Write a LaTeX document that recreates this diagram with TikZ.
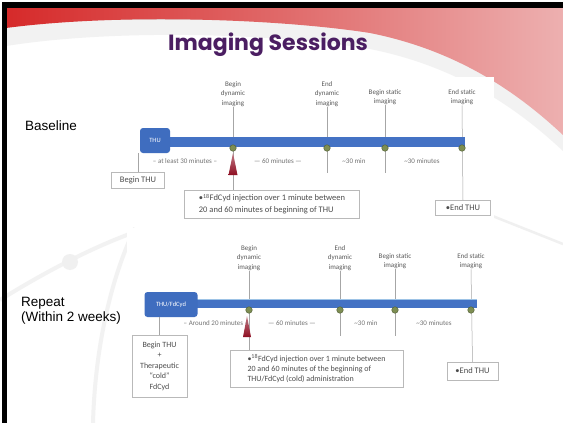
\documentclass[tikz,border=0pt]{standalone}
\usepackage{fontspec}
\setmainfont{Carlito}
\newfontfamily\arialf{Liberation Sans}
\newfontfamily\titlef{Poppins}
\definecolor{titlepurple}{HTML}{4B1E62}
\definecolor{barblue}{HTML}{4472C4}
\definecolor{boxblue}{HTML}{3F6DBF}
\definecolor{markc}{HTML}{7E8E52}
\definecolor{markd}{HTML}{55633A}
\definecolor{spikered}{HTML}{8E0E22}
\definecolor{swred}{HTML}{D62A2A}
\definecolor{swmid}{HTML}{E06A6A}
\definecolor{swpink}{HTML}{EDB0B0}
\definecolor{lightline}{HTML}{9DC3E6}
\begin{document}
\begin{tikzpicture}[x=1pt,y=-1pt,
 lbl/.style={font=\fontsize{7}{9.5}\selectfont, text=black!65, align=center, inner sep=0.5pt},
 note/.style={draw=gray!55, line width=0.5pt, fill=white, font=\fontsize{8.5}{11.5}\selectfont, text=black!70, inner sep=2pt},
 vline/.style={draw=gray!70, line width=0.5pt},
 mk/.style={circle, draw=markd, fill=markc, minimum size=6.5pt, inner sep=0, line width=0.5pt},
 phase/.style={rectangle, rounded corners=3pt, fill=boxblue, text=white, font=\fontsize{6.5}{7}\selectfont, minimum height=25pt, inner sep=1pt},
 gap/.style={font=\fontsize{7}{8}\selectfont, text=black!55, inner sep=0.5pt},
 spike/.style={top color=spikered!55, bottom color=spikered},
 side/.style={font=\arialf\fontsize{13.5}{15.5}\selectfont, align=left, anchor=north west, inner sep=0},
 deco/.style={draw=gray!10, line width=4pt}
]
\useasboundingbox (0,0) rectangle (563,423);
\fill[white] (0,0) rectangle (563,423);
% decorative background arcs
\draw[deco] (0,300) .. controls (40,275) and (90,248) .. (135,232);
\fill[gray!12] (70,262) circle (8);
\draw[deco] (135,228) .. controls (110,280) and (95,350) .. (93,423);
\draw[draw=gray!12, line width=2.5pt] (490,215) -- (563,244);
% top swoosh
\fill[gray!25] (6,14) -- (563,14) -- (563,143) .. controls (515,98) and (455,58) .. (370,41) .. controls (280,26) and (120,20) .. (6,38) -- cycle;
\fill[gray!10] (6,20) -- (563,20) -- (563,151) .. controls (515,106) and (455,66) .. (370,49) .. controls (280,34) and (120,28) .. (6,46) -- cycle;
\shade[left color=swred, right color=swpink, middle color=swmid] (6,7) -- (563,7) -- (563,135) .. controls (515,90) and (455,50) .. (370,33) .. controls (280,19) and (120,13) .. (6,28) -- cycle;
% black frame
\fill[black] (1.5,1.5) rectangle (563,7.5);
\fill[black] (1.5,1.5) rectangle (6.5,423);
% title
\node[font=\titlef\bfseries\fontsize{22}{26}\selectfont, text=titlepurple, anchor=base, inner sep=0] (title) at (268,50) {Imaging Sessions};
% side labels
\node[side] (base) at (25,121) {Baseline};
\node[side] (rep) at (21,297) {Repeat\\(Within 2 weeks)};
% pasted picture backgrounds
\fill[white] (100,77) rectangle (494,226);
\fill[white] (127,228) rectangle (520,400);

% ===== Baseline timeline =====
\node[lbl] (t1) at (233,94) {Begin\\dynamic\\imaging};
\node[lbl] (t2) at (327,94) {End\\dynamic\\imaging};
\node[lbl] (t3) at (385,97) {Begin static\\imaging};
\node[lbl] (t4) at (462,97) {End static\\imaging};
\node[note, minimum width=53pt, minimum height=16pt] (bthu) at (138,180) {Begin THU};
\node[note, minimum width=175pt, minimum height=28pt, align=left] (inj) at (272,204) {•\textsuperscript{18}FdCyd injection over 1 minute between\\20 and 60 minutes of beginning of THU};
\node[note, minimum width=55pt, minimum height=15pt] (endb) at (463,208) {•End THU};
\coordinate (c2) at (327,173);
\coordinate (c3) at (385,173);
\draw[vline] (t1.south) -- (t1.south |- inj.north);
\draw[vline] (t2.south) -- (c2);
\draw[vline] (t3.south) -- (c3);
\draw[vline] (t4.south) -- (endb.north);
\fill[barblue] (160,137) rectangle (465,147);
\node[phase, minimum width=30pt] (ph1) at (155,140.5) {THU};
\draw[vline] (bthu.north) -- (bthu.north |- ph1.south);
\node[mk] (m1) at (233,148) {};
\node[mk] (m2) at (327,148) {};
\node[mk] (m3) at (385,148) {};
\node[mk] (m4) at (462,148) {};
\shade[spike] (228.5,175) -- (233,153) -- (237.5,175) -- cycle;
\node[gap] (g1) at (185,161) {-- at least 30 minutes --};
\node[gap] (g2) at (278,161) {--- 60 minutes ---};
\node[gap] (g3) at (354,161) {\textasciitilde30 min};
\node[gap] (g4) at (422,161) {\textasciitilde30 minutes};

% ===== Repeat timeline =====
\node[lbl] (r1) at (249,258) {Begin\\dynamic\\imaging};
\node[lbl] (r2) at (340,258) {End\\dynamic\\imaging};
\node[lbl] (r3) at (395,261) {Begin static\\imaging};
\node[lbl] (r4) at (471,261) {End static\\imaging};
\node[note, minimum width=55pt, minimum height=62pt, align=center, font=\fontsize{8}{10.5}\selectfont] (rbthu) at (159.5,366) {Begin THU\\+\\Therapeutic\\``cold''\\FdCyd};
\node[note, minimum width=173pt, minimum height=37pt, align=left, font=\fontsize{8}{10}\selectfont] (rinj) at (316.5,368.5) {•\textsuperscript{18}FdCyd injection over 1 minute between\\20 and 60 minutes of the beginning of\\THU/FdCyd (cold) administration};
\node[note, minimum width=51pt, minimum height=18pt] (rend) at (472.5,371) {•End THU};
\coordinate (e2) at (340,336);
\coordinate (e3) at (395,336);
\draw[vline] (r1.south) -- (r1.south |- rinj.north);
\draw[vline] (r2.south) -- (e2);
\draw[vline] (r3.south) -- (e3);
\draw[vline] (r4.south) -- (rend.north);
\fill[barblue] (190,300) rectangle (477,307.5);
\draw[lightline, line width=0.8pt] (190,299.3) -- (477,299.3);
\node[phase, minimum width=53pt] (ph2) at (171,304.5) {THU/FdCyd};
\draw[vline] (rbthu.north) -- (rbthu.north |- ph2.south);
\node[mk] (n1) at (249,310) {};
\node[mk] (n2) at (340,310) {};
\node[mk] (n3) at (395,310) {};
\node[mk] (n4) at (471,310) {};
\shade[spike] (243,337) -- (247,316) -- (251,337) -- cycle;
\node[gap] (h1) at (216,323) {-- Around 20 minutes --};
\node[gap] (h2) at (292,323) {--- 60 minutes ---};
\node[gap] (h3) at (366,323) {\textasciitilde30 min};
\node[gap] (h4) at (434,323) {\textasciitilde30 minutes};
\end{tikzpicture}
\end{document}
